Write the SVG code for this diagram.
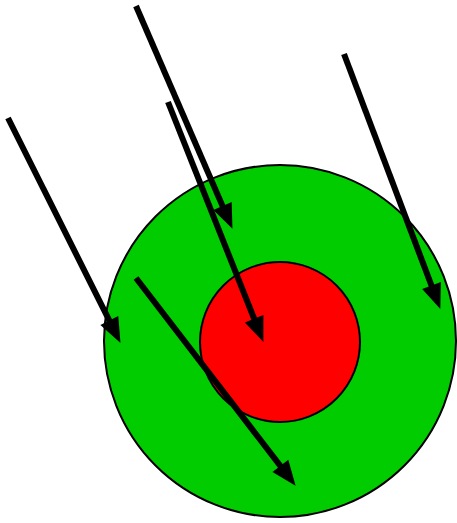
<svg xmlns="http://www.w3.org/2000/svg" width="457" height="523" viewBox="0 0 457 523">
<style>
.ring{stroke:#000;stroke-width:2}
.arr{stroke:#000;stroke-width:6;fill:none;marker-end:url(#ah)}
</style>
<defs>
<marker id="ah" markerUnits="userSpaceOnUse" markerWidth="30" markerHeight="24" refX="4" refY="0" viewBox="0 -12 26 24" orient="auto" overflow="visible">
<path d="M0,-10 L25,0 L0,10 z" fill="#000"/>
</marker>
</defs>
<rect width="457" height="523" fill="#fff"/>
<g id="outer"><circle class="ring" cx="280" cy="341" r="176" fill="#00CC00"/></g>
<g id="inner"><circle class="ring" cx="280" cy="342" r="80" fill="#FF0000"/></g>
<g id="connectors">
<line class="arr" x1="8" y1="118" x2="111.1" y2="324.1"/>
<line class="arr" x1="136" y1="6" x2="224.1" y2="209.6"/>
<line class="arr" x1="168" y1="102" x2="255.6" y2="322.4"/>
<line class="arr" x1="344" y1="54" x2="432.9" y2="289.3"/>
<line class="arr" x1="136" y1="278" x2="282.8" y2="469.1"/>
</g>
</svg>
